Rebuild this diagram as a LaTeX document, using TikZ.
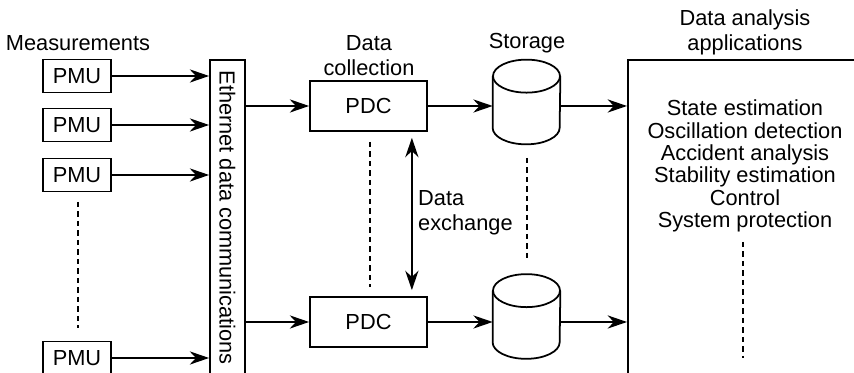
\documentclass[tikz,border=0pt]{standalone}
\usepackage{fontspec}
\setmainfont{Liberation Sans}
\usetikzlibrary{arrows.meta,positioning}

\tikzset{
  box/.style={draw,line width=1pt,inner sep=0pt},
  pmubox/.style={box,minimum width=1.36cm,minimum height=0.66cm},
  pdcbox/.style={box,minimum width=2.34cm,minimum height=1.0cm},
  store/.style={inner sep=0pt,minimum width=1.34cm,minimum height=1.68cm},
  flow/.style={line width=1pt,-{Stealth[length=11pt,width=7.5pt,inset=3.5pt]}},
  xflow/.style={line width=1pt,{Stealth[length=11pt,width=7.5pt,inset=3.5pt]}-{Stealth[length=11pt,width=7.5pt,inset=3.5pt]}},
  dots/.style={line width=1pt,dash pattern=on 3pt off 2.4pt}
}

% drum outline round a store node
\newcommand{\drum}[1]{%
  \draw[line width=1pt] ([yshift=-0.33cm]#1.north) ellipse [x radius=0.67cm,y radius=0.33cm];
  \draw[line width=1pt] ([yshift=-0.33cm]#1.north west) -- ([yshift=0.33cm]#1.south west)
    arc [start angle=180,end angle=360,x radius=0.67cm,y radius=0.33cm]
    -- ([yshift=-0.33cm]#1.north east);}

\begin{document}
\begin{tikzpicture}[font=\fontsize{12.4}{14.2}\selectfont]
  \useasboundingbox (0,0) rectangle (17.08,7.46);
  \clip (0,0) rectangle (17.08,7.46);

  % Measurement units.
  \node (meas) at (1.56,6.60) {Measurements};
  \node[pmubox] (pmu1) at (1.54,5.94) {PMU};
  \node[pmubox] (pmu2) at (1.54,4.96) {PMU};
  \node[pmubox] (pmu3) at (1.54,3.96) {PMU};
  \node[pmubox] (pmu4) at (1.54,0.30) {PMU};
  \draw[dots] (1.56,3.42) -- (1.56,0.90);

  % Communications bus.
  \node[box,minimum width=0.70cm,minimum height=6.31cm] (eth) at (4.55,3.105) {};
  \node[rotate=-90] (ethtext) at (eth.center) {Ethernet data communications};
  \foreach \i in {1,...,4}
    \draw[flow] (pmu\i) -- (pmu\i -| eth.west);

  % Data collection.
  \node[align=center] (coll) at (7.38,6.35) {Data\\collection};
  \node[pdcbox] (pdc1) at (7.37,5.34) {PDC};
  \node[pdcbox] (pdc2) at (7.37,1.02) {PDC};
  \draw[dots] (7.40,4.62) -- (7.40,1.72);
  \draw[xflow] ([xshift=-0.32cm,yshift=-0.12cm]pdc1.south east)
    -- ([xshift=-0.32cm,yshift=0.12cm]pdc2.north east);
  \node[align=left,anchor=west] (xchg) at (8.24,3.21) {Data\\exchange};

  % Storage.
  \node (stortext) at (10.54,6.60) {Storage};
  \node[store] (stor1) at (10.53,5.42) {};
  \node[store] (stor2) at (10.53,1.13) {};
  \drum{stor1}
  \drum{stor2}
  \draw[dots] (10.54,4.30) -- (10.54,2.30);

  % Applications.
  \node[box,minimum width=6cm,minimum height=8cm,anchor=north west]
    (apps) at (12.54,6.28) {};
  \node[align=center] (appstitle) at (14.90,6.81) {Data analysis\\applications};
  \node[align=center,font=\fontsize{12.4}{12.7}\selectfont] (applist) at (14.90,4.14)
    {State estimation\\Oscillation detection\\Accident analysis\\
     Stability estimation\\Control\\System protection};
  \draw[dots] (14.86,2.62) -- (14.86,0.30);

  % Data flow.
  \foreach \i in {1,2} {
    \draw[flow] (eth.east |- pdc\i) -- (pdc\i);
    \draw[flow] (pdc\i) -- (pdc\i -| stor\i.west);
    \draw[flow] (stor\i.east |- pdc\i) -- (pdc\i -| apps.west);
  }
\end{tikzpicture}
\end{document}
